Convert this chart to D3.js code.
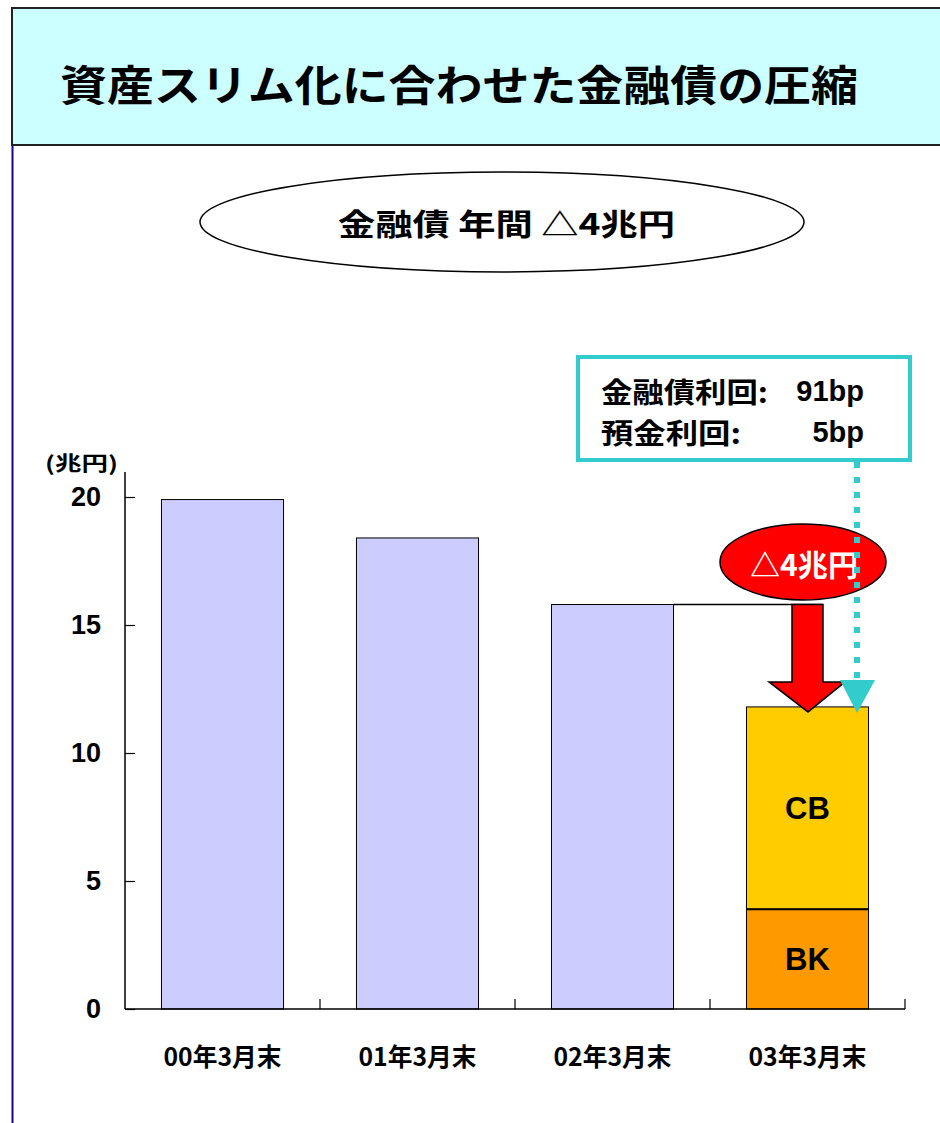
<!DOCTYPE html>
<html><head><meta charset="utf-8">
<script src="https://cdn.jsdelivr.net/npm/d3@7"></script>
<style>
html,body{margin:0;padding:0;background:#fff;}
svg{display:block;}
text{font-weight:700;}
</style></head>
<body>
<script>
const title = "資産スリム化に合わせた金融債の圧縮";
const subtitle = "金融債 年間 △4兆円";
const categories = ["00年3月末","01年3月末","02年3月末","03年3月末"];
const totals = [19.9, 18.4, 15.8, null];
const bkValues = [null, null, null, 3.9];
const cbValues = [null, null, null, 7.9];
const yTicks = [0,5,10,15,20];
const unitLabel = "(兆円)";
const dropLabel = "△4兆円";
const infoLines = [["金融債利回:","91bp"],["預金利回:","5bp"]];
const segLabels = ["BK","CB"];

const CJK='"Noto Sans CJK JP", sans-serif';
const LAT='"Liberation Sans", Arial, sans-serif';
const W=940,H=1123;
const svg=d3.select("body").append("svg").attr("width",W).attr("height",H);

// left border line
svg.append("line").attr("x1",12.5).attr("x2",12.5).attr("y1",145).attr("y2",H).attr("stroke","#1a0099").attr("stroke-width",2);
// title box
svg.append("rect").attr("x",12).attr("y",8).attr("width",940).attr("height",137).attr("fill","#ccffff").attr("stroke","#222").attr("stroke-width",2);
svg.append("text").attr("x",60).attr("y",82).attr("dominant-baseline","central").style("font-family",CJK)
  .attr("font-size",42).attr("textLength",798).attr("lengthAdjust","spacingAndGlyphs").attr("fill","#000").text(title);

// subtitle ellipse
svg.append("ellipse").attr("cx",502).attr("cy",222).attr("rx",302).attr("ry",50).attr("fill","#fff").attr("stroke","#000").attr("stroke-width",1.5);
svg.append("text").attr("x",338).attr("y",222).attr("dominant-baseline","central").style("font-family",CJK)
  .attr("font-size",30).attr("textLength",337).attr("lengthAdjust","spacingAndGlyphs").text(subtitle);

// scales
const x=d3.scaleBand().domain(categories).range([125,905]).paddingInner(0.374).paddingOuter(0.187);
const y=d3.scaleLinear().domain([0,20]).range([1009,497]);

// y axis
const ya=svg.append("g").attr("transform","translate(125,0)")
  .call(d3.axisLeft(y).tickValues(yTicks).tickSizeInner(-10).tickSizeOuter(0).tickPadding(24));
ya.select(".domain").attr("d","M0,472V1009").attr("stroke","#000").attr("stroke-width",1.5);
ya.selectAll(".tick line").attr("stroke","#000").attr("stroke-width",1.2);
ya.selectAll(".tick text").attr("font-size",27).style("font-family",LAT).attr("fill","#000");
svg.append("text").attr("x",45).attr("y",462).attr("dominant-baseline","central").style("font-family",CJK)
  .attr("font-size",20).attr("textLength",73).attr("lengthAdjust","spacingAndGlyphs").text(unitLabel);

// bars
const pad=x.step()*x.paddingInner()/2;
categories.forEach((c,i)=>{
  if(totals[i]!=null){
    svg.append("rect").attr("x",x(c)).attr("y",y(totals[i])).attr("width",x.bandwidth()).attr("height",y(0)-y(totals[i]))
      .attr("fill","#ccccff").attr("stroke","#000").attr("stroke-width",1);
  }
  if(bkValues[i]!=null){
    const b=bkValues[i], t=bkValues[i]+cbValues[i];
    svg.append("rect").attr("x",x(c)).attr("y",y(b)).attr("width",x.bandwidth()).attr("height",y(0)-y(b))
      .attr("fill","#ff9900").attr("stroke","#000").attr("stroke-width",1);
    svg.append("rect").attr("x",x(c)).attr("y",y(t)).attr("width",x.bandwidth()).attr("height",y(b)-y(t))
      .attr("fill","#ffcc00").attr("stroke","#000").attr("stroke-width",1);
    svg.append("line").attr("x1",x(c)).attr("x2",x(c)+x.bandwidth()).attr("y1",y(b)).attr("y2",y(b)).attr("stroke","#000").attr("stroke-width",2);
    svg.append("text").attr("x",x(c)+x.bandwidth()/2).attr("y",y(b/2)).attr("text-anchor","middle").attr("dominant-baseline","central")
      .attr("font-size",31).style("font-family",LAT).text(segLabels[0]);
    svg.append("text").attr("x",x(c)+x.bandwidth()/2).attr("y",y(b+cbValues[i]/2)).attr("text-anchor","middle").attr("dominant-baseline","central")
      .attr("font-size",31).style("font-family",LAT).text(segLabels[1]);
  }
});

// x axis
svg.append("line").attr("x1",125).attr("x2",905).attr("y1",y(0)).attr("y2",y(0)).attr("stroke","#000").attr("stroke-width",1.5);
categories.forEach((c,i)=>{
  const bx=x(c)+x.bandwidth()+pad;
  svg.append("line").attr("x1",bx).attr("x2",bx).attr("y1",y(0)).attr("y2",y(0)-10).attr("stroke","#000").attr("stroke-width",1.2);
  const cx=x(c)+x.bandwidth()/2;
  svg.append("text").attr("x",cx-59).attr("y",1055).attr("dominant-baseline","central").style("font-family",CJK)
    .attr("font-size",25).attr("textLength",118).attr("lengthAdjust","spacingAndGlyphs").text(c);
});

// connector line from 02 top
const prev=categories[2];
const topLast=bkValues[3]+cbValues[3];
svg.append("line").attr("x1",x(prev)+x.bandwidth()).attr("x2",823).attr("y1",y(totals[2])).attr("y2",y(totals[2])).attr("stroke","#000").attr("stroke-width",1.5);

// red arrow
const ay0=y(totals[2]), ay1=y(topLast)+5, ahy=ay1-30;
svg.append("path").attr("d",`M792,${ay0}H823V${ahy}H845L808,${ay1}L769,${ahy}H792Z`).attr("fill","#ff0000").attr("stroke","#000").attr("stroke-width",1.5);

// red ellipse
svg.append("ellipse").attr("cx",803).attr("cy",562).attr("rx",83).attr("ry",38).attr("fill","#ff0000").attr("stroke","#000").attr("stroke-width",1.5);
svg.append("text").attr("x",750).attr("y",563).attr("dominant-baseline","central").style("font-family",CJK)
  .attr("font-size",30).attr("textLength",108).attr("lengthAdjust","spacingAndGlyphs").attr("fill","#fff").text(dropLabel);

// cyan dotted line and triangle
svg.append("line").attr("x1",857).attr("x2",857).attr("y1",462).attr("y2",680).attr("stroke","#33cccc").attr("stroke-width",6).attr("stroke-dasharray","6,9");
svg.append("path").attr("d",`M840,680H875L857,${y(topLast)+6}Z`).attr("fill","#33cccc");

// info box
svg.append("rect").attr("x",578).attr("y",357).attr("width",332).attr("height",103).attr("fill","#fff").attr("stroke","#33cccc").attr("stroke-width",4);
const labW=[167,140];
infoLines.forEach((l,i)=>{
  const ty=391+i*41;
  svg.append("text").attr("x",601).attr("y",ty).attr("dominant-baseline","central").style("font-family",CJK)
    .attr("font-size",28).attr("textLength",labW[i]).attr("lengthAdjust","spacingAndGlyphs").text(l[0]);
  svg.append("text").attr("x",864).attr("y",ty).attr("text-anchor","end").attr("dominant-baseline","central").style("font-family",LAT)
    .attr("font-size",29).text(l[1]);
});
</script>
</body></html>
